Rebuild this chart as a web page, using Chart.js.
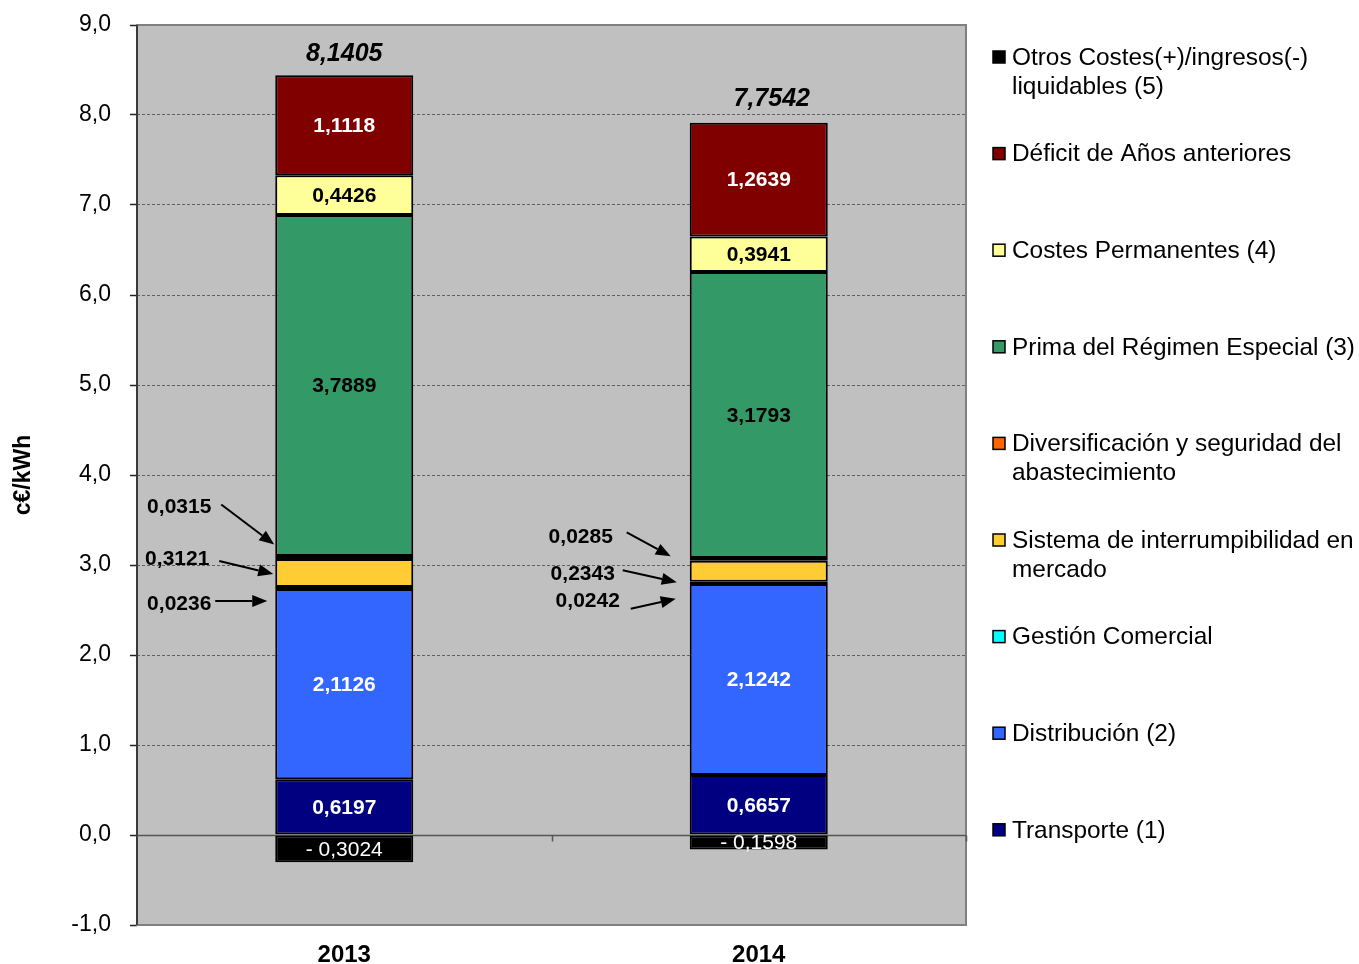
<!DOCTYPE html>
<html>
<head>
<meta charset="utf-8">
<script src="https://cdn.jsdelivr.net/npm/chart.js@4.4.1/dist/chart.umd.min.js"></script>
<style>
  html, body { margin: 0; padding: 0; background: #fff; }
  #wrap { width: 1359px; height: 964px; }
</style>
</head>
<body>
<div id="wrap"><canvas id="chart" width="1359" height="964"></canvas></div>
<script>
// Data (c€/kWh)
const categories = ['2013', '2014'];
const transporte = [0.6197, 0.6657];
const distribucion = [2.1126, 2.1242];
const gestion = [0.0236, 0.0242];
const interrumpibilidad = [0.3121, 0.2343];
const diversificacion = [0.0315, 0.0285];
const prima = [3.7889, 3.1793];
const permanentes = [0.4426, 0.3941];
const deficit = [1.1118, 1.2639];
const otros = [-0.3024, -0.1598];
const totals = [8.1405, 7.7542];

const FONT = 'Liberation Sans, Arial, sans-serif';

function fmt(v) {
  const s = Math.abs(v).toFixed(4).replace('.', ',');
  return v < 0 ? '- ' + s : s;
}

// series, bottom to top; text: color of inline value, or 'arrow' for annotated thin pieces
const series = [
  { label: 'Transporte (1)', data: transporte, color: '#000080', text: '#fff' },
  { label: 'Distribución (2)', data: distribucion, color: '#3366FF', text: '#fff' },
  { label: 'Gestión Comercial', data: gestion, color: '#00FFFF', text: 'arrow' },
  { label: 'Sistema de interrumpibilidad en mercado', data: interrumpibilidad, color: '#FFCC33', text: 'arrow' },
  { label: 'Diversificación y seguridad del abastecimiento', data: diversificacion, color: '#FF6600', text: 'arrow' },
  { label: 'Prima del Régimen Especial (3)', data: prima, color: '#339966', text: '#000' },
  { label: 'Costes Permanentes (4)', data: permanentes, color: '#FFFF99', text: '#000' },
  { label: 'Déficit de Años anteriores', data: deficit, color: '#800000', text: '#fff' },
  { label: 'Otros Costes(+)/ingresos(-) liquidables (5)', data: otros, color: '#000000', text: '#fff', normal: true }
];

// arrow layout per category, keyed by series index: offsets from bar left edge / segment centre
const arrowLayout = [
  {
    4: { tx: -96, ty: -50, sx: -54, sy: -53, ex: -1, ey: -13 },
    3: { tx: -98, ty: -14, sx: -56, sy: -12, ex: -2, ey: 1 },
    2: { tx: -96, ty: 16, sx: -60, sy: 13, ex: -8, ey: 13 }
  },
  {
    4: { tx: -109, ty: -22, sx: -63, sy: -27, ex: -19, ey: -3 },
    3: { tx: -107, ty: 3, sx: -67, sy: -1, ex: -13, ey: 11 },
    2: { tx: -102, ty: 18, sx: -59, sy: 26, ex: -14, ey: 16 }
  }
];
const totalOffset = [{ dx: 0, dy: -21 }, { dx: 13, dy: -24 }];

const plotBg = {
  id: 'plotBg',
  beforeDraw(chart) {
    const { ctx, chartArea: a } = chart;
    ctx.save();
    ctx.fillStyle = '#C0C0C0';
    ctx.fillRect(a.left, a.top, a.right - a.left, a.bottom - a.top);
    ctx.restore();
  },
  beforeDatasetsDraw(chart) {
    const { ctx, chartArea: a, scales } = chart;
    const y0 = Math.round(scales.y.getPixelForValue(0)) + 0.5;
    ctx.save();
    ctx.strokeStyle = '#808080';
    ctx.lineWidth = 2;
    ctx.strokeRect(a.left, a.top, a.right - a.left, a.bottom - a.top);
    // value axis line
    ctx.strokeStyle = '#222';
    ctx.lineWidth = 1.5;
    ctx.beginPath();
    ctx.moveTo(a.left, a.top);
    ctx.lineTo(a.left, a.bottom);
    ctx.stroke();
    // category axis at zero
    ctx.strokeStyle = '#555';
    ctx.beginPath();
    ctx.moveTo(a.left, y0);
    ctx.lineTo(a.right, y0);
    const n = categories.length;
    const w = (a.right - a.left) / n;
    for (let i = 1; i <= n; i++) {
      const x = Math.round(a.left + i * w) + 0.5;
      ctx.moveTo(x, y0);
      ctx.lineTo(x, y0 + 6);
    }
    ctx.stroke();
    ctx.restore();
  }
};

function arrow(ctx, x1, y1, x2, y2) {
  const ang = Math.atan2(y2 - y1, x2 - x1);
  const L = 15, W = 6;
  const bx = x2 - L * Math.cos(ang), by = y2 - L * Math.sin(ang);
  ctx.beginPath();
  ctx.moveTo(x1, y1);
  ctx.lineTo(bx, by);
  ctx.stroke();
  ctx.beginPath();
  ctx.moveTo(x2, y2);
  ctx.lineTo(bx + W * Math.sin(ang), by - W * Math.cos(ang));
  ctx.lineTo(bx - W * Math.sin(ang), by + W * Math.cos(ang));
  ctx.closePath();
  ctx.fill();
}

const valueLabels = {
  id: 'valueLabels',
  afterDatasetsDraw(chart) {
    const { ctx } = chart;
    ctx.save();
    ctx.textAlign = 'center';
    ctx.textBaseline = 'middle';
    series.forEach((s, di) => {
      const meta = chart.getDatasetMeta(di);
      meta.data.forEach((bar, i) => {
        const cy = (bar.y + bar.base) / 2;
        if (s.text === 'arrow') {
          const lay = arrowLayout[i][di];
          const left = bar.x - bar.width / 2;
          ctx.fillStyle = '#000';
          ctx.strokeStyle = '#000';
          ctx.lineWidth = 2;
          ctx.font = 'bold 21px ' + FONT;
          ctx.fillText(fmt(s.data[i]), left + lay.tx, cy + lay.ty);
          arrow(ctx, left + lay.sx, cy + lay.sy, left + lay.ex, cy + lay.ey);
        } else {
          ctx.fillStyle = s.text;
          ctx.font = (s.normal ? '' : 'bold ') + '21px ' + FONT;
          ctx.fillText(fmt(s.data[i]), bar.x, cy + 1);
        }
      });
    });
    // totals above the stacks
    const top = chart.getDatasetMeta(series.length - 2);
    ctx.fillStyle = '#000';
    ctx.font = 'italic bold 25px ' + FONT;
    top.data.forEach((bar, i) => {
      ctx.fillText(totals[i].toFixed(4).replace('.', ','), bar.x + totalOffset[i].dx, bar.y + totalOffset[i].dy);
    });
    ctx.restore();
  }
};

const sideLegend = {
  id: 'sideLegend',
  afterDraw(chart) {
    const { ctx, chartArea: a } = chart;
    const x0 = a.right + 27;
    const tx = x0 + 19;
    const maxW = 352;
    ctx.save();
    ctx.font = '24.4px ' + FONT;
    ctx.textBaseline = 'middle';
    ctx.textAlign = 'left';
    const items = series.slice().reverse();
    items.forEach((s, k) => {
      const y = a.top + 32 + k * 96.6;
      ctx.fillStyle = s.color;
      ctx.fillRect(x0, y - 6, 12, 12);
      ctx.strokeStyle = '#000';
      ctx.lineWidth = 1.5;
      ctx.strokeRect(x0, y - 6, 12, 12);
      // wrap
      const words = s.label.split(' ');
      const lines = [];
      let cur = '';
      words.forEach(w => {
        const t = cur ? cur + ' ' + w : w;
        if (ctx.measureText(t).width > maxW && cur) {
          lines.push(cur);
          cur = w;
        } else cur = t;
      });
      lines.push(cur);
      ctx.fillStyle = '#000';
      lines.forEach((ln, j) => ctx.fillText(ln, tx, y + 1 + j * 29));
    });
    ctx.restore();
  }
};

new Chart(document.getElementById('chart'), {
  type: 'bar',
  data: {
    labels: categories,
    datasets: series.map(s => ({
      label: s.label,
      data: s.data,
      backgroundColor: s.color,
      borderColor: '#000',
      borderWidth: 2,
      borderSkipped: false,
      barPercentage: 1,
      categoryPercentage: 0.333
    }))
  },
  options: {
    responsive: false,
    animation: false,
    layout: { padding: { left: 0, right: 393, top: 25, bottom: 0 } },
    plugins: {
      legend: { display: false },
      tooltip: { enabled: false }
    },
    scales: {
      x: {
        stacked: true,
        grid: { display: false, drawTicks: false },
        border: { display: false },
        ticks: { color: '#000', font: { family: FONT, size: 24, weight: 'bold' }, padding: 16 },
        afterFit(scale) { scale.height = 39; scale.paddingLeft = 0; scale.paddingRight = 0; }
      },
      y: {
        stacked: true,
        min: -1,
        max: 9,
        grid: { color: '#606060', lineWidth: 1, tickLength: 7, tickColor: '#222', tickWidth: 1.5, tickBorderDash: [] },
        border: { display: false, dash: [3, 2] },
        ticks: {
          stepSize: 1,
          color: '#000',
          padding: 19,
          font: { family: FONT, size: 23 },
          callback: v => v.toFixed(1).replace('.', ',')
        },
        title: {
          display: true,
          text: 'c€/kWh',
          color: '#000',
          font: { family: FONT, size: 23, weight: 'bold' },
          padding: { top: 10, bottom: 0 }
        },
        afterFit(scale) { scale.width = 137; scale.paddingTop = 0; scale.paddingBottom = 0; }
      }
    }
  },
  plugins: [plotBg, valueLabels, sideLegend]
});
</script>
</body>
</html>
